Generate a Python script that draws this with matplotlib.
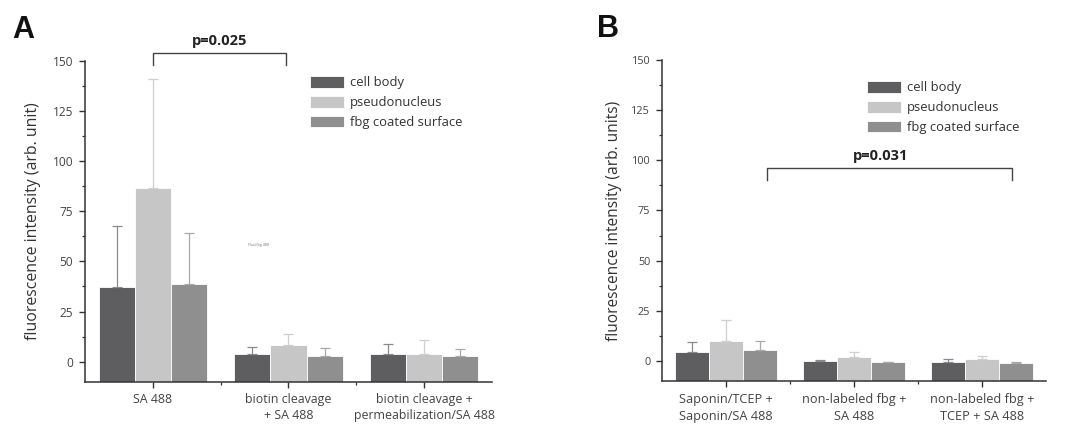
import numpy as np
import matplotlib
matplotlib.use("Agg")
import matplotlib.pyplot as plt
from matplotlib.ticker import MultipleLocator

plt.rcParams['font.family'] = ['Open Sans', 'DejaVu Sans']

# series (shared by both panels)
series = ["cell body", "pseudonucleus", "fbg coated surface"]
colors = ["#5e5e60", "#c6c6c6", "#8f8f8f"]
err_colors = ["#8a8a8a", "#cfcfcf", "#a8a8a8"]

# panel A
groups_a = ["SA 488", "biotin cleavage\n+ SA 488", "biotin cleavage +\npermeabilization/SA 488"]
mean_a = [[37.3, 3.6, 3.9],   # cell body
          [86.5, 8.4, 3.9],   # pseudonucleus
          [38.5, 2.9, 2.9]]   # fbg coated surface
upper_a = [[67.5, 7.5, 8.6],
           [141.0, 14.0, 10.7],
           [64.0, 6.6, 6.4]]

# panel B
groups_b = ["Saponin/TCEP +\nSaponin/SA 488", "non-labeled fbg +\nSA 488", "non-labeled fbg +\nTCEP + SA 488"]
mean_b = [[4.5, 0.1, -0.3],
          [10.1, 1.8, 0.8],
          [5.3, -0.6, -1.0]]
upper_b = [[9.4, 0.4, 0.8],
           [20.2, 4.6, 2.6],
           [9.9, -0.4, -0.6]]

base = -10
fig = plt.figure(figsize=(10.74, 4.25), dpi=100)
ax_a = fig.add_axes([0.0791, 0.1019, 0.3790, 0.7546])
ax_b = fig.add_axes([0.6164, 0.1035, 0.3576, 0.7553])


def draw_panel(ax, groups, means, uppers, tick_fs, ytick_fs, label, ylabel_fs, lsp, lpad):
    x = np.arange(len(groups))
    w = 0.8 / 3
    for i, name in enumerate(series):
        m = np.array(means[i])
        up = np.array(uppers[i])
        pos = x + (i - 1) * w
        ax.bar(pos, m - base, bottom=base, width=w, color=colors[i],
               edgecolor="white", linewidth=0.6, label=name, zorder=2)
        ax.errorbar(pos, m, yerr=[np.zeros_like(m), up - m], fmt="none",
                    ecolor=err_colors[i], elinewidth=0.9, capsize=3.4,
                    capthick=0.9, zorder=3)
    ax.set_xlim(-0.5, len(groups) - 0.5)
    ax.set_ylim(base, 150)
    ax.set_xticks(x)
    ax.set_xticklabels(groups, fontsize=tick_fs, color="#444444",
                       linespacing=lsp)
    ax.set_xticks(np.arange(0.5, len(groups) - 0.5), minor=True)
    ax.yaxis.set_major_locator(MultipleLocator(25))
    ax.yaxis.set_minor_locator(MultipleLocator(12.5))
    ax.set_yticks(np.arange(0, 151, 25))
    for side in ("top", "right"):
        ax.spines[side].set_visible(False)
    for side in ("left", "bottom"):
        ax.spines[side].set_color("#333333")
        ax.spines[side].set_linewidth(1.1)
    ax.tick_params(axis="both", which="major", length=4.5, width=1.0,
                   color="#333333", pad=4)
    ax.tick_params(axis="both", which="minor", length=2.5, width=0.9,
                   color="#333333")
    ax.tick_params(axis="y", labelsize=ytick_fs, labelcolor="#444444")
    ax.set_ylabel(label, fontsize=ylabel_fs, color="#333333", labelpad=lpad)
    ax.set_facecolor("none")


draw_panel(ax_a, groups_a, mean_a, upper_a, 8.9, 8.6,
           "fluorescence intensity (arb. unit)", 11.4, 1.3, 8)
draw_panel(ax_b, groups_b, mean_b, upper_b, 9.2, 7.8,
           "fluorescence intensity (arb. units)", 11.2, 1.4, 7)

leg_kw = dict(frameon=False, fontsize=9.4, handlelength=2.6, handleheight=1.0,
              handletextpad=0.45, labelspacing=0.5, borderpad=0, borderaxespad=0,
              loc="upper left", bbox_transform=fig.transFigure)
leg_a = ax_a.legend(bbox_to_anchor=(310 / 1074, 1 - 76 / 425), **leg_kw)
leg_b = ax_b.legend(bbox_to_anchor=(867 / 1074, 1 - 81 / 425), **leg_kw)
for leg in (leg_a, leg_b):
    for t in leg.get_texts():
        t.set_color("#333333")

# significance brackets
ax_a.plot([0, 0, 0.98, 0.98], [148, 154, 154, 148], color="#444444",
          lw=1.0, clip_on=False, zorder=4)
ax_a.text(0.49, 156.5, "p=0.025", ha="center", va="bottom", fontsize=10.5,
          fontweight="bold", color="#222222")
ax_b.plot([0.32, 0.32, 2.23, 2.23], [90.3, 96.3, 96.3, 90.3], color="#444444",
          lw=1.0, zorder=4)
ax_b.text(1.205, 98.5, "p=0.031", ha="center", va="bottom", fontsize=10.5,
          fontweight="bold", color="#222222")

# stray small label inside panel A
ax_a.text(0.78, 58, "Fluo/fbg 488", fontsize=2.6, color="#777777",
          ha="center", va="center")

fig.text(12 / 1074, 1 - 38 / 425, "A", fontsize=22, fontweight="bold",
         family="Liberation Sans", color="#111111")
fig.text(597 / 1074, 1 - 37 / 425, "B", fontsize=22, fontweight="bold",
         family="Liberation Sans", color="#111111")

fig.savefig("out.png", dpi=100, facecolor="white")
